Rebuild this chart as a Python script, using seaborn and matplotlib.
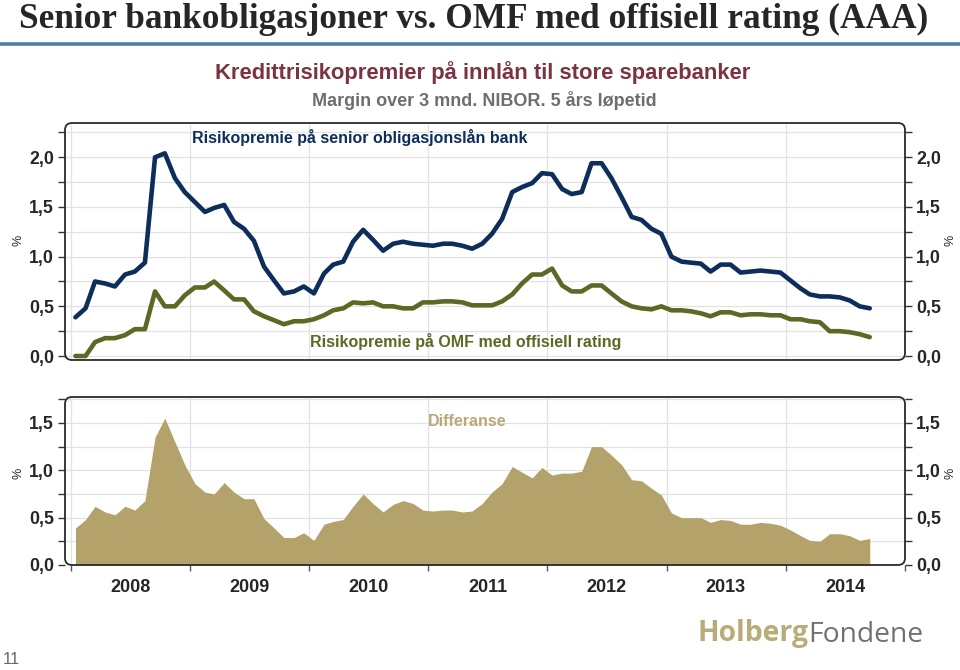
import matplotlib
matplotlib.use("Agg")
import datetime as dt

import pandas as pd
import seaborn as sns
import matplotlib.pyplot as plt
import matplotlib.dates as mdates
from matplotlib.patches import FancyBboxPatch
from matplotlib.lines import Line2D

# monthly observations Jan 2008 - Sep 2014, margin over 3 mnd. NIBOR (%)
senior = [0.39, 0.48, 0.75, 0.73, 0.70, 0.82, 0.85, 0.94, 2.00, 2.04,
          1.79, 1.65, 1.55, 1.45, 1.49, 1.52, 1.35, 1.28, 1.16, 0.90,
          0.76, 0.63, 0.65, 0.70, 0.63, 0.83, 0.92, 0.95, 1.15, 1.27,
          1.17, 1.06, 1.13, 1.15, 1.13, 1.12, 1.11, 1.13, 1.13, 1.11,
          1.08, 1.13, 1.23, 1.38, 1.65, 1.70, 1.74, 1.84, 1.83, 1.68,
          1.63, 1.65, 1.94, 1.94, 1.79, 1.60, 1.40, 1.37, 1.28, 1.23,
          1.00, 0.95, 0.94, 0.93, 0.85, 0.92, 0.92, 0.84, 0.85, 0.86,
          0.85, 0.84, 0.76, 0.68, 0.62, 0.60, 0.60, 0.59, 0.56, 0.50,
          0.48]
omf = [0.00, 0.00, 0.14, 0.18, 0.18, 0.21, 0.27, 0.27, 0.65, 0.50,
       0.50, 0.61, 0.69, 0.69, 0.75, 0.66, 0.57, 0.57, 0.45, 0.40,
       0.36, 0.32, 0.35, 0.35, 0.37, 0.41, 0.46, 0.48, 0.54, 0.53,
       0.54, 0.50, 0.50, 0.48, 0.48, 0.54, 0.54, 0.55, 0.55, 0.54,
       0.51, 0.51, 0.51, 0.55, 0.62, 0.73, 0.82, 0.82, 0.88, 0.71,
       0.65, 0.65, 0.71, 0.71, 0.63, 0.55, 0.50, 0.48, 0.47, 0.50,
       0.46, 0.46, 0.45, 0.43, 0.40, 0.44, 0.44, 0.41, 0.42, 0.42,
       0.41, 0.41, 0.37, 0.37, 0.35, 0.34, 0.25, 0.25, 0.24, 0.22,
       0.19]
differanse = [0.39, 0.48, 0.62, 0.56, 0.53, 0.62, 0.58, 0.68, 1.35, 1.55,
              1.30, 1.06, 0.86, 0.77, 0.75, 0.87, 0.77, 0.70, 0.70, 0.49,
              0.39, 0.29, 0.29, 0.34, 0.26, 0.43, 0.46, 0.48, 0.62, 0.75,
              0.65, 0.56, 0.64, 0.68, 0.65, 0.58, 0.57, 0.58, 0.58, 0.56,
              0.57, 0.65, 0.77, 0.86, 1.04, 0.98, 0.92, 1.03, 0.95, 0.97,
              0.97, 0.99, 1.25, 1.25, 1.16, 1.06, 0.90, 0.89, 0.81, 0.74,
              0.55, 0.50, 0.50, 0.50, 0.45, 0.48, 0.47, 0.43, 0.43, 0.45,
              0.44, 0.42, 0.37, 0.31, 0.26, 0.25, 0.33, 0.33, 0.31, 0.26,
              0.28]
years = ['2008', '2009', '2010', '2011', '2012', '2013', '2014']
top_ticks = [0.0, 0.5, 1.0, 1.5, 2.0]
top_labels = ['0,0', '0,5', '1,0', '1,5', '2,0']
bottom_ticks = [0.0, 0.5, 1.0, 1.5]
bottom_labels = ['0,0', '0,5', '1,0', '1,5']

NAVY = '#0d2d5b'
OLIVE = '#5a6a24'
KHAKI = '#b3a26a'
GRID = '#e2e2e2'

dates = pd.date_range('2008-01-01', periods=len(senior), freq='MS') + pd.Timedelta(days=14)
df = pd.DataFrame({'dato': dates, 'senior': senior, 'omf': omf, 'diff': differanse})

sns.set_style("white")
plt.rcParams['font.family'] = ['Liberation Sans', 'DejaVu Sans']

W, H = 960, 670
fig = plt.figure(figsize=(W / 100, H / 100), dpi=100)


def px(x0, y0, x1, y1):
    # axes rectangle from pixel box (top-left origin)
    return [x0 / W, 1 - y1 / H, (x1 - x0) / W, (y1 - y0) / H]


ax1 = fig.add_axes(px(65, 123, 905, 360))
ax2 = fig.add_axes(px(65, 397, 905, 565))

sns.lineplot(data=df, x='dato', y='senior', ax=ax1, color=NAVY, lw=3.3, zorder=3)
sns.lineplot(data=df, x='dato', y='omf', ax=ax1, color=OLIVE, lw=3.3, zorder=3)
ax2.fill_between(df['dato'], df['diff'], 0, color=KHAKI, lw=0, zorder=3)

year_starts = [dt.datetime(y, 1, 1) for y in range(2008, 2016)]
mid_years = [dt.datetime(int(y), 7, 1) for y in years]
xmin, xmax = dt.datetime(2007, 12, 14), dt.datetime(2014, 10, 19)


def style(ax, ticks, labels, ylim, show_x):
    for s in ax.spines.values():
        s.set_visible(False)
    ax.set_xlim(mdates.date2num(xmin), mdates.date2num(xmax))
    ax.set_ylim(*ylim)
    ax.set_yticks(ticks, labels=labels)
    ax.set_yticks([t + 0.25 for t in ticks], minor=True)
    ax.set_xticks(mdates.date2num(year_starts), labels=[''] * len(year_starts))
    ax.set_xticks(mdates.date2num(mid_years), labels=years if show_x else [''] * len(years), minor=True)
    ax.grid(True, which='both', axis='y', color=GRID, lw=0.9, zorder=0)
    ax.grid(True, which='major', axis='x', color=GRID, lw=0.9, zorder=0)
    ax.tick_params(axis='y', which='both', left=True, right=True, labelleft=True, labelright=True,
                   length=5, width=1, color='#333333', direction='out', pad=3, labelsize=12.8)
    ax.tick_params(axis='x', which='minor', length=0, pad=10, labelsize=13)
    ax.tick_params(axis='x', which='major', bottom=show_x, length=4, width=1, color='#555555')
    for lbl in ax.get_yticklabels() + ax.get_xticklabels(minor=True):
        lbl.set_fontweight('bold')
    ax.set_xlabel('')
    ax.set_ylabel('')
    bb = ax.get_position()
    w, h = bb.width * W, bb.height * H
    r = 7
    frame = FancyBboxPatch((0, 0), 1, 1, boxstyle=f"round,pad=0,rounding_size={r / w}",
                           mutation_aspect=w / h, transform=ax.transAxes, fill=False,
                           ec='#2a2a2a', lw=1.3, clip_on=False, zorder=6)
    ax.add_artist(frame)


style(ax1, top_ticks, top_labels, (-0.04, 2.345), False)
style(ax2, bottom_ticks, bottom_labels, (0, 1.774), True)

# headings
fig.text(19 / W, 1 - 28 / H, 'Senior bankobligasjoner vs. OMF med offisiell rating (AAA)',
         family='Liberation Serif', fontweight='bold', fontsize=25.4, va='baseline', ha='left')
fig.add_artist(Line2D([0, 1], [1 - 44 / H] * 2, transform=fig.transFigure, color='#4e7ca6', lw=2.6))
fig.text(483 / W, 1 - 73 / H, 'Kredittrisikopremier på innlån til store sparebanker',
         color='#7b3341', fontweight='bold', fontsize=15.8, ha='center', va='center')
fig.text(484 / W, 1 - 101 / H, 'Margin over 3 mnd. NIBOR. 5 års løpetid',
         color='#6e6e6e', fontweight='bold', fontsize=13, ha='center', va='center')

# series labels
fig.text(360 / W, 1 - 137 / H, 'Risikopremie på senior obligasjonslån bank',
         color=NAVY, fontweight='bold', fontsize=11.5, ha='center', va='center')
fig.text(466 / W, 1 - 341 / H, 'Risikopremie på OMF med offisiell rating',
         color=OLIVE, fontweight='bold', fontsize=11.5, ha='center', va='center')
fig.text(467 / W, 1 - 421 / H, 'Differanse',
         color='#b8a977', fontweight='bold', fontsize=11.5, ha='center', va='center')

# unit labels
for yy in (240, 473):
    fig.text(18 / W, 1 - yy / H, '%', rotation=90, fontsize=9, ha='center', va='center')
    fig.text(950 / W, 1 - yy / H, '%', rotation=90, fontsize=9, ha='center', va='center')

# footer
t1 = fig.text(697 / W, 1 - 634 / H, 'Holberg', family='Open Sans', fontweight='bold',
              fontsize=20.3, color='#b8ac78', ha='left', va='center')
ax2.annotate('Fondene', xy=(1, 0), xycoords=t1, va='bottom', ha='left',
             family='Open Sans', fontsize=20.3, color='#707070', annotation_clip=False)
fig.text(3 / W, 1 - 660 / H, '11', fontsize=12, color='#5f6b7a', ha='left', va='center')

fig.savefig('out.png', dpi=100)
